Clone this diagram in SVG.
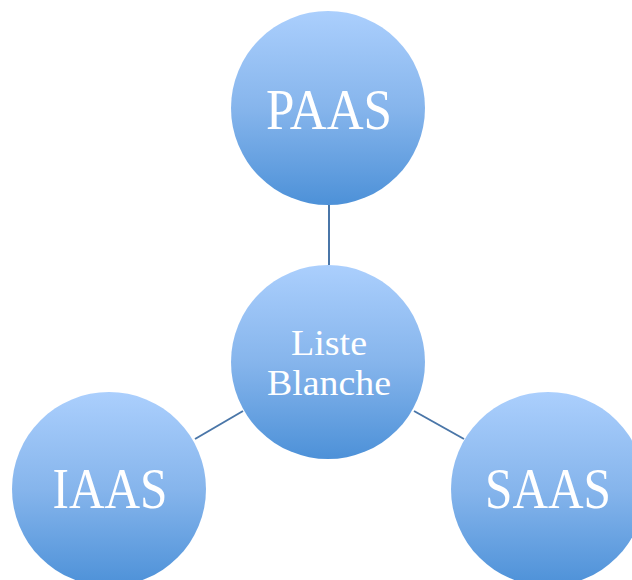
<svg xmlns="http://www.w3.org/2000/svg" width="632" height="580" viewBox="0 0 632 580">
<defs>
<linearGradient id="g" x1="0" y1="0" x2="0" y2="1">
<stop offset="0" stop-color="#abcffd"/>
<stop offset="0.5" stop-color="#86b5ec"/>
<stop offset="1" stop-color="#4d91d8"/>
</linearGradient>
<style>
.n{fill:url(#g);}
.t{fill:#ffffff;font-family:"Liberation Serif","DejaVu Serif",serif;text-anchor:middle;}
.big{font-size:58px;}
.small{font-size:35px;}
.c{stroke:#4a76a8;stroke-width:2;fill:none;}
</style>
</defs>
<rect width="632" height="580" fill="#ffffff"/>
<g id="connectors">
<line class="c" x1="329" y1="205" x2="329" y2="265"/>
<line class="c" x1="243" y1="411" x2="195" y2="439"/>
<line class="c" x1="414" y1="411" x2="464" y2="439"/>
</g>
<g id="paas">
<circle class="n" cx="328" cy="108" r="97"/>
<text class="t big" x="329" y="129" textLength="126" lengthAdjust="spacingAndGlyphs">PAAS</text>
</g>
<g id="liste-blanche">
<circle class="n" cx="328" cy="362" r="97"/>
<text class="t small" x="329" y="355" textLength="76" lengthAdjust="spacingAndGlyphs">Liste</text>
<text class="t small" x="329" y="395" textLength="124" lengthAdjust="spacingAndGlyphs">Blanche</text>
</g>
<g id="iaas">
<circle class="n" cx="109" cy="489" r="97"/>
<text class="t big" x="110" y="508" textLength="115" lengthAdjust="spacingAndGlyphs">IAAS</text>
</g>
<g id="saas">
<circle class="n" cx="548" cy="489" r="97"/>
<text class="t big" x="548" y="508" textLength="126" lengthAdjust="spacingAndGlyphs">SAAS</text>
</g>
</svg>
